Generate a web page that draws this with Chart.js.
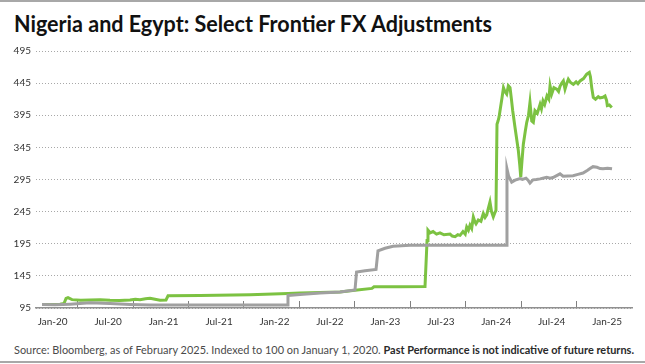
<!DOCTYPE html>
<html>
<head>
<meta charset="utf-8">
<script src="https://cdn.jsdelivr.net/npm/chart.js@4"></script>
<style>
  html, body { margin: 0; padding: 0; background: #fff; }
  #frame { position: relative; width: 645px; height: 364px; overflow: hidden; }
  .rule { position: absolute; left: 0; width: 645px; background: #a8a8a8; }
  #title { position: absolute; left: 14px; top: 9px; font: 700 23px Lato, sans-serif; color: #111;
           white-space: nowrap; transform-origin: left top; }
  #chartBox { position: absolute; left: 0; top: 40px; width: 645px; height: 295px; }
  #footer { position: absolute; left: 14px; top: 342px; font: 12px Lato, sans-serif; color: #4a4a4a;
            white-space: nowrap; transform-origin: left top; }
  #footer b { color: #2a2a2a; }
</style>
</head>
<body>
<div id="frame">
  <div class="rule" style="top:0;height:2px"></div>
  <div id="title">Nigeria and Egypt: Select Frontier FX Adjustments</div>
  <div id="chartBox"><canvas id="fxChart"></canvas></div>
  <div id="footer">Source: Bloomberg, as of February 2025. Indexed to 100 on January 1, 2020. <b>Past Performance is not indicative of future returns.</b></div>
  <div class="rule" style="top:361px;height:2px"></div>
</div>
<script>
// x values are months since Jan 1, 2020
const xLabels = ['Jan-20', 'Jul-20', 'Jan-21', 'Jul-21', 'Jan-22', 'Jul-22',
                 'Jan-23', 'Jul-23', 'Jan-24', 'Jul-24', 'Jan-25'];
const yTicks = [95, 145, 195, 245, 295, 345, 395, 445, 495];

// Egypt (grey)
const egyptMonths = [0.00, 1.41, 3.03, 5.19, 7.36, 9.52, 11.69, 17.10, 22.51, 26.52, 26.62, 27.92, 30.09,
    32.25, 33.87, 34.04, 34.96, 36.15, 36.36, 37.12, 37.99, 39.83, 50.22, 50.32, 50.5, 50.83, 51.2,
    51.73, 52.0, 52.38, 52.6, 52.81, 53.14, 53.5, 53.90, 54.2, 54.62, 55.0, 55.30, 55.7, 56.06,
    56.39, 56.9, 57.47, 58.0, 58.55, 59.0, 59.31, 59.63, 60.06, 60.4, 60.71, 61.2, 61.69];
const egyptValues = [100.5, 100, 101, 103, 102, 100.5, 99.5, 99.5, 99.5, 99.6, 114.5, 116, 118.5,
    120, 123, 151, 153, 155, 184, 188, 191, 192.5, 192.5, 311.6, 300, 291, 294,
    296.5, 295, 297, 294, 289.5, 294.5, 295, 296, 297, 298.5, 297, 298, 301, 303.8,
    300, 300.5, 301, 303, 305, 309, 312, 315, 314, 312, 311.6, 312.5, 311.6];

// Nigeria (green)
const nigeriaMonths = [0.00, 0.87, 1.95, 2.38, 2.60, 2.81, 3.25, 4.2, 5.19, 6.3, 7.36, 8.4, 9.52,
    10.1, 10.61, 11.2, 11.69, 12.23, 12.77, 13.42, 13.64, 17.10, 22.51, 26.62, 27.92,
    32.25, 33.87, 35.71, 35.93, 38.74, 41.45, 41.67, 41.77, 42.0, 42.32, 42.7, 43.07,
    43.5, 44.16, 44.4, 44.70, 45.0, 45.24, 45.56, 45.8, 45.96, 46.15, 46.32, 46.5, 46.68,
    46.85, 46.97, 47.22, 47.5, 47.76, 47.95, 48.13, 48.3, 48.48, 48.65, 48.84, 49.0, 49.13,
    49.24, 49.35, 49.46, 49.6, 49.78, 49.94, 50.1, 50.29, 50.47, 50.65, 50.8, 50.94,
    51.19, 51.4, 51.55, 51.7, 51.81, 51.95, 52.09, 52.3, 52.46, 52.65, 52.81, 53.00,
    53.17, 53.35, 53.6, 53.90, 54.05, 54.22, 54.4, 54.65, 54.85, 54.98, 55.16, 55.4,
    55.70, 55.9, 56.06, 56.25, 56.42, 56.60, 56.8, 56.96, 57.2, 57.50, 57.8, 58.0,
    58.23, 58.6, 58.95, 59.23, 59.35, 59.49, 59.66, 59.9, 60.2, 60.39, 60.7, 60.93,
    61.1, 61.18, 61.4, 61.66];
const nigeriaValues = [100.5, 100.5, 101, 102, 110, 111, 108, 107, 107.5, 107.8, 107, 106.8, 107.5,
    108.5, 108, 109.5, 110, 108.5, 107, 107.5, 114, 114.5, 115.5, 117.5, 118.5,
    120, 122.5, 125.5, 128, 128, 128.5, 200, 216, 212, 214, 210, 212,
    209, 210, 207, 206, 209, 208, 214, 210, 221, 216, 224, 219, 236.5,
    229, 226, 232, 230, 242, 236, 240, 250, 260, 245, 237, 243, 247,
    381, 386, 392, 405, 422, 438, 432, 428, 441, 438, 420, 402,
    376, 355, 340, 318, 298.5, 325, 350, 370, 384, 395, 415, 386,
    384, 402, 398, 412, 405, 417.5, 412, 425, 420, 440.7, 428, 438,
    435.6, 432, 440, 445, 448.5, 435.6, 445, 451, 446, 443, 447, 444,
    448.5, 452, 459, 461.6, 455, 438, 422.6, 420, 424, 422, 423, 425,
    418, 410, 411, 407];

// axis layout (months)
const X_MIN = -0.65, X_MAX = 63.85;
const LABEL_START = 1.16, MARK_START = 3.86, STEP = 6;

const labelTicks = xLabels.map((_, i) => LABEL_START + i * STEP);
const markTicks = xLabels.slice(1).map((_, i) => MARK_START + i * STEP);
const isMark = v => markTicks.some(m => Math.abs(m - v) < 1e-6);

function toPoints(xs, ys) {
    return xs.map((x, i) => ({ x: x, y: ys[i] }));
}

const tickFont = { family: "Lato, sans-serif", size: 10 };

new Chart(document.getElementById('fxChart').getContext('2d'), {
    type: 'line',
    data: {
        datasets: [{
            label: 'Egypt',
            data: toPoints(egyptMonths, egyptValues),
            borderColor: '#a0a0a0',
            borderWidth: 3,
            pointRadius: 0,
            tension: 0
        }, {
            label: 'Nigeria',
            data: toPoints(nigeriaMonths, nigeriaValues),
            borderColor: '#7cc242',
            borderWidth: 3,
            pointRadius: 0,
            tension: 0
        }]
    },
    options: {
        responsive: true,
        maintainAspectRatio: false,
        animation: false,
        events: [],
        layout: { padding: { left: 0, right: 13, top: 10, bottom: 0 } },
        plugins: { legend: { display: false }, tooltip: { enabled: false } },
        scales: {
            x: {
                type: 'linear',
                min: X_MIN,
                max: X_MAX,
                afterBuildTicks: scale => {
                    scale.ticks = labelTicks.concat(markTicks).sort((a, b) => a - b).map(v => ({ value: v }));
                },
                afterFit: scale => { scale.height = 27; },
                ticks: {
                    autoSkip: false,
                    maxRotation: 0,
                    padding: 15,
                    color: '#333',
                    font: tickFont,
                    callback: value => {
                        const i = labelTicks.findIndex(v => Math.abs(v - value) < 1e-6);
                        return i >= 0 ? xLabels[i] : '';
                    }
                },
                grid: {
                    drawOnChartArea: false,
                    drawTicks: true,
                    tickLength: -7,
                    tickWidth: 1,
                    tickColor: ctx => (ctx.tick && isMark(ctx.tick.value)) ? '#808080' : 'rgba(0,0,0,0)'
                },
                border: { display: true, color: '#909090', width: 1.5 }
            },
            y: {
                min: 95,
                max: 495,
                afterBuildTicks: scale => { scale.ticks = yTicks.map(v => ({ value: v })); },
                afterFit: scale => { scale.width = 36; },
                ticks: { padding: 5, color: '#333', font: tickFont },
                grid: { drawTicks: false, color: '#a8a8a8', lineWidth: 1 },
                border: { display: false, dash: [1, 2] }
            }
        }
    }
});

function fitWidth(el, target) {
    const w = el.getBoundingClientRect().width;
    if (w > 0) el.style.transform = 'scaleX(' + (target / w) + ')';
}
document.fonts.ready.then(() => {
    fitWidth(document.getElementById('title'), 478);
    fitWidth(document.getElementById('footer'), 620);
});
</script>
</body>
</html>
